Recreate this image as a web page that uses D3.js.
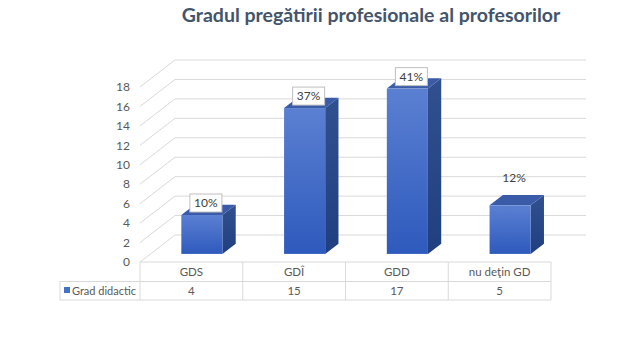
<!DOCTYPE html>
<html>
<head>
<meta charset="utf-8">
<script src="https://cdn.jsdelivr.net/npm/d3@7"></script>
<style>
  body { margin: 0; background: #fff; }
  svg { display: block; font-family: Lato, "Open Sans", sans-serif; }
</style>
</head>
<body>
<svg width="642" height="354"></svg>
<script>
const categories = ['GDS', 'GDÎ', 'GDD', 'nu deţin GD'];
const values = [4, 15, 17, 5];
const percents = ['10%', '37%', '41%', '12%'];
const ticks = [0, 2, 4, 6, 8, 10, 12, 14, 16, 18];
const seriesName = 'Grad didactic';

const svg = d3.select('svg');

// 3d offsets of the back wall
const depthX = 35, depthY = -27;

const x = d3.scaleBand().domain(categories).range([140, 551]);
const y = d3.scaleLinear().domain([0, 18]).range([262, 87]);

// title
svg.append('text')
    .attr('x', 371).attr('y', 22)
    .attr('text-anchor', 'middle')
    .style('font-size', '19.5px')
    .style('font-weight', 'bold')
    .style('fill', '#44546a')
    .text('Gradul pregătirii profesionale al profesorilor');

// gridlines: left side wall diagonal + back wall line
const grid = svg.append('g').attr('stroke', '#d9d9d9').attr('stroke-width', 1).attr('fill', 'none');
ticks.forEach(t => {
    grid.append('path')
        .attr('d', d3.line()([
            [140, y(t)],
            [140 + depthX, y(t) + depthY],
            [551 + depthX, y(t) + depthY]
        ]));
});

// tick labels
svg.append('g').selectAll('text')
    .data(ticks)
    .enter()
    .append('text')
    .attr('x', 130)
    .attr('y', d => y(d))
    .attr('dy', '0.35em')
    .attr('text-anchor', 'end')
    .style('font-size', '12px')
    .style('fill', '#595959')
    .text(d => d);

// bar gradient
const defs = svg.append('defs');
const grad = defs.append('linearGradient').attr('id', 'front').attr('x1', 0).attr('y1', 0).attr('x2', 0).attr('y2', 1);
grad.append('stop').attr('offset', '0%').attr('stop-color', '#5b80d2');
grad.append('stop').attr('offset', '100%').attr('stop-color', '#2e5abd');
const gradSide = defs.append('linearGradient').attr('id', 'side').attr('x1', 0).attr('y1', 0).attr('x2', 0).attr('y2', 1);
gradSide.append('stop').attr('offset', '0%').attr('stop-color', '#31508f');
gradSide.append('stop').attr('offset', '100%').attr('stop-color', '#203f80');

const f0 = 0.3, f1 = 0.38;
const ox = depthX * f0, oy = depthY * f0;
const bx = depthX * f1, by = depthY * f1;
const bw = x.bandwidth() * 0.4;

const bars = svg.append('g').selectAll('g')
    .data(values)
    .enter()
    .append('g');

bars.each(function(v, i) {
    const g = d3.select(this);
    const cx = x(categories[i]) + x.bandwidth() / 2 + ox;
    const x0 = cx - bw / 2, x1 = cx + bw / 2;
    const yt = y(v) + oy, yb = y(0) + oy;
    g.append('path')
        .attr('d', d3.line()([[x1, yt], [x1 + bx, yt + by], [x1 + bx, yb + by], [x1, yb]]) + 'Z')
        .attr('fill', 'url(#side)');
    g.append('path')
        .attr('d', d3.line()([[x0, yt], [x0 + bx, yt + by], [x1 + bx, yt + by], [x1, yt]]) + 'Z')
        .attr('fill', '#3a5ba8');
    g.append('rect')
        .attr('x', x0).attr('y', yt)
        .attr('width', bw).attr('height', yb - yt)
        .attr('fill', 'url(#front)');

    // data label
    const lx = cx + 4;
    const boxed = i < 3;
    const ly = boxed ? yt - 12 : yt - 27;
    if (boxed) {
        g.append('rect')
            .attr('x', lx - 16).attr('y', ly - 9)
            .attr('width', 32).attr('height', 18)
            .attr('fill', '#fff')
            .attr('stroke', '#bfbfbf');
    }
    g.append('text')
        .attr('x', lx).attr('y', ly)
        .attr('dy', '0.35em')
        .attr('text-anchor', 'middle')
        .style('font-size', '12px')
        .style('fill', '#404040')
        .text(percents[i]);
});

// data table
const table = svg.append('g').attr('stroke', '#d9d9d9').attr('fill', 'none');
const tTop = 262, tMid = 281.5, tBot = 300;
table.append('path').attr('d', `M140,${tTop}H551M60,${tMid}H551M60,${tBot}H551M60,${tMid}V${tBot}`);
categories.forEach(c => {
    table.append('path').attr('d', `M${x(c)},${tTop}V${tBot}`);
});
table.append('path').attr('d', `M551,${tTop}V${tBot}`);

const tText = svg.append('g').style('font-size', '11.5px').style('fill', '#595959').attr('text-anchor', 'middle');
categories.forEach((c, i) => {
    const cx = x(c) + x.bandwidth() / 2;
    tText.append('text').attr('x', cx).attr('y', (tTop + tMid) / 2).attr('dy', '0.35em').text(c);
    tText.append('text').attr('x', cx).attr('y', (tMid + tBot) / 2).attr('dy', '0.35em').text(values[i]);
});

svg.append('rect').attr('x', 64).attr('y', 287).attr('width', 6).attr('height', 6).attr('fill', '#4472c4');
svg.append('text')
    .attr('x', 72).attr('y', (tMid + tBot) / 2).attr('dy', '0.35em')
    .style('font-size', '11px').style('fill', '#595959')
    .text(seriesName);
</script>
</body>
</html>
